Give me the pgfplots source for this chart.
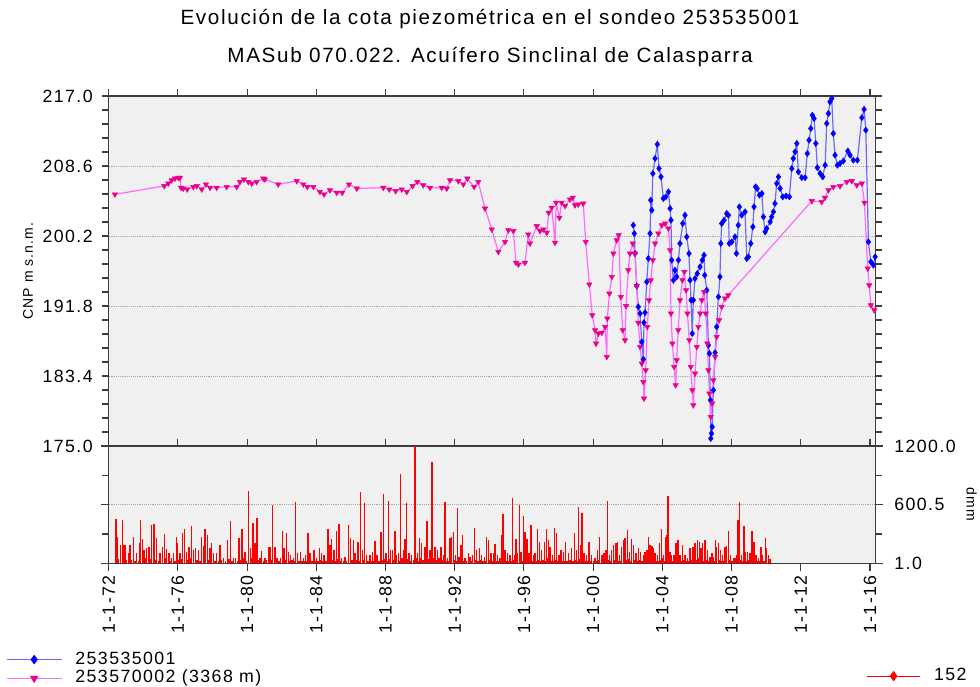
\documentclass[border=0pt]{standalone}
\usepackage{fontspec}
\setmainfont{Liberation Sans}[LetterSpace=8]
\usepackage{pgfplots}
\pgfplotsset{compat=1.18}
\usepackage{pgfplotstable}

\definecolor{bgg}{RGB}{240,240,240}
\definecolor{blueline}{RGB}{105,105,255}
\definecolor{magline}{RGB}{255,105,255}
\definecolor{axgray}{RGB}{60,60,60}

\pgfplotstableread{
x y
1972.36 205.2
1975.21 206.2
1975.45 206.5
1975.64 206.9
1975.83 207.1
1976.02 207.2
1976.12 207.2
1976.18 206.0
1976.31 205.9
1976.54 205.8
1976.89 206.1
1977.09 206.2
1977.38 205.8
1977.62 206.4
1977.86 206.0
1978.24 206.0
1978.82 206.1
1979.40 206.1
1979.59 206.7
1979.82 207.0
1980.07 206.7
1980.27 206.5
1980.55 206.7
1980.94 207.1
1981.03 207.0
1981.80 206.4
1982.87 206.8
1983.25 206.4
1983.48 206.1
1983.83 206.1
1984.21 205.5
1984.45 205.2
1984.79 205.7
1985.18 205.4
1985.50 205.4
1985.89 206.4
1986.34 205.9
1987.87 206.0
1988.22 205.8
1988.59 205.6
1988.94 205.8
1989.23 205.5
1989.57 206.2
1989.84 206.7
1990.18 206.3
1990.57 206.0
1991.25 206.0
1991.54 205.9
1991.73 206.9
1992.21 206.8
1992.50 206.4
1992.73 207.1
1993.12 206.1
1993.36 206.7
1993.75 203.5
1994.14 201.0
1994.52 198.3
1994.91 199.5
1995.10 200.9
1995.39 200.8
1995.54 197.0
1995.68 196.8
1996.06 197.0
1996.25 200.4
1996.35 199.3
1996.74 201.4
1996.93 200.8
1997.12 201.0
1997.32 200.6
1997.43 203.0
1997.61 203.6
1997.80 199.4
1997.86 204.2
1998.05 202.4
1998.18 204.2
1998.38 203.8
1998.66 204.6
1998.82 204.8
1998.95 203.9
1999.14 204.0
1999.43 204.1
1999.57 199.5
1999.78 194.4
1999.95 190.7
2000.11 188.9
2000.17 187.3
2000.30 188.5
2000.50 188.6
2000.69 189.3
2000.79 185.7
2000.82 190.3
2000.94 193.3
2001.08 195.3
2001.17 198.1
2001.36 199.7
2001.48 200.3
2001.60 192.9
2001.71 188.9
2001.84 187.7
2001.90 191.8
2002.03 196.1
2002.13 198.1
2002.29 199.3
2002.42 198.1
2002.52 194.2
2002.61 189.8
2002.71 186.9
2002.81 184.9
2002.90 182.7
2002.94 180.7
2003.04 184.1
2003.13 189.3
2003.23 192.5
2003.33 194.9
2003.45 197.3
2003.58 199.3
2003.77 200.5
2003.97 201.5
2004.16 201.7
2004.35 201.1
2004.45 198.5
2004.50 190.9
2004.58 187.3
2004.68 184.5
2004.77 182.3
2004.83 185.3
2004.92 188.9
2005.02 192.5
2005.16 194.9
2005.27 195.9
2005.37 193.7
2005.45 190.9
2005.56 187.7
2005.64 184.5
2005.73 181.7
2005.79 179.9
2005.89 183.7
2005.99 186.9
2006.08 189.3
2006.18 190.9
2006.28 192.5
2006.41 193.5
2006.51 190.9
2006.60 187.3
2006.66 184.1
2006.72 181.3
2006.80 178.5
2006.88 180.1
2006.95 182.9
2007.05 185.7
2007.14 188.1
2007.28 190.1
2007.43 191.7
2007.62 192.7
2007.81 193.1
2012.64 204.4
2013.21 204.3
2013.40 204.8
2013.60 205.7
2013.88 206.1
2014.27 206.2
2014.66 206.7
2014.95 206.8
2015.24 206.3
2015.53 206.5
2015.68 204.2
2015.87 196.3
2015.96 194.3
2016.05 191.9
2016.25 191.3
}\magtab

\pgfplotstableread{
x y
2002.32 201.5
2002.38 200.5
2002.42 198.1
2002.52 194.2
2002.61 191.7
2002.71 190.9
2002.81 187.5
2002.90 185.4
2002.94 189.8
2003.00 191.0
2003.10 194.7
2003.19 197.5
2003.29 200.5
2003.33 204.5
2003.39 203.3
2003.45 207.7
2003.58 209.5
2003.71 211.2
2003.81 208.3
2003.92 207.3
2004.06 204.7
2004.20 204.9
2004.35 205.5
2004.45 203.5
2004.50 202.1
2004.54 197.3
2004.64 194.9
2004.73 196.1
2004.83 195.3
2004.93 197.3
2005.02 199.3
2005.18 201.7
2005.31 202.7
2005.41 200.1
2005.54 198.1
2005.60 194.9
2005.66 192.5
2005.73 188.5
2005.79 192.5
2005.89 195.1
2006.02 195.7
2006.18 196.5
2006.31 197.3
2006.41 197.9
2006.45 195.5
2006.57 193.7
2006.66 187.1
2006.72 186.1
2006.78 180.5
2006.80 175.9
2006.84 176.5
2006.88 177.3
2006.95 181.7
2007.05 186.2
2007.14 189.3
2007.24 192.9
2007.33 195.3
2007.38 199.3
2007.43 201.7
2007.57 202.1
2007.72 202.9
2007.82 202.7
2007.87 199.3
2008.01 199.5
2008.20 200.1
2008.28 198.1
2008.39 201.5
2008.45 203.7
2008.59 202.7
2008.78 203.1
2008.88 197.5
2008.97 197.7
2009.11 199.3
2009.23 201.3
2009.30 203.7
2009.39 206.1
2009.48 205.9
2009.61 205.1
2009.75 205.3
2009.84 202.5
2009.94 200.7
2010.03 201.1
2010.23 201.9
2010.32 202.5
2010.42 203.1
2010.51 204.1
2010.61 206.5
2010.71 207.3
2010.81 205.9
2010.96 204.9
2011.15 205.0
2011.34 204.9
2011.48 208.3
2011.57 209.5
2011.67 210.3
2011.77 211.3
2011.86 207.9
2012.06 207.2
2012.25 207.2
2012.38 210.1
2012.48 211.7
2012.58 213.1
2012.67 214.7
2012.77 214.3
2012.87 211.3
2012.96 208.4
2013.12 207.7
2013.27 207.3
2013.41 208.7
2013.50 213.7
2013.60 214.9
2013.69 216.3
2013.79 216.7
2013.88 212.5
2013.98 209.9
2014.12 208.7
2014.27 208.9
2014.46 209.2
2014.72 210.4
2014.85 209.9
2015.04 209.3
2015.27 209.3
2015.53 214.4
2015.66 215.4
2015.76 212.9
2015.91 199.5
2016.05 197.1
2016.20 196.7
2016.30 197.7
}\bluetab

\pgfplotstableread{
x y
1972.42 453
1972.48 274
1972.56 50
1972.69 189
1972.79 446
1972.85 189
1972.94 190
1973.04 40
1973.14 103
1973.23 189
1973.33 35
1973.43 268
1973.52 30
1973.62 103
1973.71 25
1973.77 213
1973.83 446
1973.95 247
1974.04 137
1974.12 60
1974.20 154
1974.33 172
1974.41 50
1974.49 394
1974.62 401
1974.70 40
1974.77 257
1974.87 30
1974.97 103
1975.10 172
1975.22 298
1975.29 60
1975.35 144
1975.49 103
1975.56 30
1975.64 51
1975.74 103
1975.83 20
1975.91 274
1975.99 206
1976.07 40
1976.12 103
1976.20 50
1976.28 308
1976.37 350
1976.51 120
1976.57 40
1976.64 172
1976.72 60
1976.80 384
1976.91 137
1977.03 154
1977.11 40
1977.18 137
1977.28 30
1977.38 274
1977.49 178
1977.57 350
1977.70 291
1977.78 40
1977.86 154
1977.95 213
1978.05 103
1978.15 30
1978.24 103
1978.34 20
1978.44 189
1978.53 40
1978.63 51
1978.74 20
1978.86 240
1978.96 50
1979.05 436
1979.13 30
1979.21 51
1979.34 51
1979.44 20
1979.53 257
1979.63 40
1979.71 350
1979.80 60
1979.88 120
1979.98 30
1980.07 737
1980.19 154
1980.27 60
1980.34 418
1980.46 206
1980.57 463
1980.67 40
1980.75 51
1980.84 130
1980.94 30
1981.04 51
1981.13 40
1981.23 172
1981.33 172
1981.40 40
1981.48 600
1981.61 172
1981.67 40
1981.74 51
1981.84 20
1981.94 60
1982.05 333
1982.13 154
1982.21 40
1982.28 309
1982.38 120
1982.46 30
1982.51 86
1982.59 40
1982.67 51
1982.75 20
1982.80 628
1982.90 103
1983.00 30
1983.09 120
1983.17 25
1983.25 51
1983.32 20
1983.38 86
1983.46 30
1983.52 316
1983.63 103
1983.75 30
1983.86 137
1983.94 20
1984.02 51
1984.09 30
1984.17 161
1984.25 40
1984.31 103
1984.36 30
1984.44 86
1984.56 20
1984.67 350
1984.79 189
1984.88 250
1984.96 40
1985.02 137
1985.10 30
1985.17 336
1985.25 50
1985.31 401
1985.39 30
1985.46 51
1985.56 20
1985.66 68
1985.75 30
1985.87 388
1985.98 257
1986.06 40
1986.14 240
1986.25 103
1986.33 40
1986.41 223
1986.48 30
1986.56 731
1986.68 137
1986.73 40
1986.79 617
1986.91 86
1987.00 30
1987.10 86
1987.18 20
1987.25 120
1987.33 30
1987.39 233
1987.47 40
1987.52 86
1987.62 20
1987.74 326
1987.81 40
1987.87 710
1987.95 50
1988.03 103
1988.10 30
1988.16 635
1988.24 50
1988.29 137
1988.39 137
1988.47 40
1988.55 333
1988.64 86
1988.74 103
1988.82 30
1988.87 909
1988.95 60
1989.03 137
1989.12 247
1989.22 617
1989.30 50
1989.37 103
1989.45 30
1989.51 86
1989.61 40
1989.70 1200
1989.76 60
1989.84 103
1989.89 30
1989.95 257
1990.03 60
1990.09 206
1990.18 40
1990.28 172
1990.36 60
1990.41 429
1990.49 50
1990.57 137
1990.65 40
1990.70 1036
1990.78 60
1990.86 172
1990.93 40
1991.01 137
1991.08 60
1991.21 172
1991.28 40
1991.34 86
1991.44 628
1991.52 30
1991.57 51
1991.65 20
1991.73 257
1991.82 274
1991.92 326
1991.98 40
1992.05 86
1992.11 30
1992.17 566
1992.25 68
1992.30 30
1992.36 189
1992.46 292
1992.54 30
1992.59 51
1992.69 20
1992.79 103
1992.88 68
1992.96 20
1993.02 86
1993.13 360
1993.21 40
1993.27 137
1993.35 30
1993.42 154
1993.50 40
1993.56 86
1993.63 20
1993.71 68
1993.79 30
1993.85 267
1993.94 240
1994.02 40
1994.10 103
1994.17 20
1994.23 103
1994.33 199
1994.41 30
1994.48 86
1994.56 20
1994.62 51
1994.71 292
1994.79 504
1994.85 40
1994.91 137
1994.98 30
1995.06 103
1995.14 20
1995.19 86
1995.27 30
1995.33 669
1995.39 40
1995.45 86
1995.54 247
1995.60 30
1995.64 103
1995.73 593
1995.79 40
1995.83 120
1995.91 30
1995.97 487
1996.06 326
1996.12 40
1996.18 247
1996.24 30
1996.29 103
1996.35 40
1996.41 394
1996.49 30
1996.54 86
1996.64 103
1996.72 20
1996.77 350
1996.83 40
1996.89 223
1996.97 30
1997.03 137
1997.10 40
1997.18 223
1997.26 30
1997.31 350
1997.37 60
1997.41 240
1997.51 172
1997.57 30
1997.64 86
1997.70 20
1997.76 360
1997.83 40
1997.89 309
1997.97 30
1998.03 86
1998.09 20
1998.14 137
1998.22 30
1998.28 120
1998.34 20
1998.41 223
1998.49 30
1998.57 103
1998.66 40
1998.76 154
1998.84 30
1998.91 309
1998.99 40
1999.05 137
1999.11 30
1999.16 573
1999.22 50
1999.28 189
1999.36 515
1999.42 40
1999.47 103
1999.55 20
1999.63 86
1999.68 30
1999.76 223
1999.84 30
1999.92 86
2000.01 20
2000.11 51
2000.19 20
2000.26 137
2000.32 40
2000.38 274
2000.50 86
2000.57 30
2000.63 103
2000.69 20
2000.75 137
2000.82 635
2000.88 40
2000.94 86
2001.00 20
2001.07 137
2001.17 189
2001.23 40
2001.31 206
2001.40 223
2001.46 30
2001.52 86
2001.59 30
2001.65 172
2001.75 240
2001.84 257
2001.92 40
2001.98 343
2002.04 50
2002.10 120
2002.17 30
2002.23 247
2002.33 189
2002.40 40
2002.48 103
2002.56 30
2002.62 154
2002.69 40
2002.75 120
2002.83 30
2002.90 86
2003.00 120
2003.10 137
2003.16 30
2003.21 274
2003.29 189
2003.39 178
2003.44 40
2003.48 154
2003.58 103
2003.66 30
2003.71 86
2003.77 20
2003.83 206
2003.89 40
2003.95 350
2004.02 60
2004.06 86
2004.14 30
2004.20 274
2004.25 292
2004.33 686
2004.39 60
2004.45 120
2004.54 86
2004.62 20
2004.68 86
2004.74 30
2004.79 206
2004.85 60
2004.91 240
2004.97 30
2005.02 86
2005.10 20
2005.18 189
2005.26 40
2005.31 86
2005.39 20
2005.45 51
2005.53 30
2005.60 154
2005.68 40
2005.76 172
2005.81 30
2005.89 206
2005.95 40
2006.03 240
2006.08 60
2006.14 223
2006.24 154
2006.30 40
2006.33 206
2006.41 30
2006.47 240
2006.55 40
2006.60 137
2006.68 20
2006.76 68
2006.82 30
2006.87 103
2006.95 68
2007.01 20
2007.07 240
2007.14 172
2007.24 206
2007.30 40
2007.37 137
2007.43 30
2007.49 86
2007.57 30
2007.63 172
2007.72 178
2007.82 333
2007.88 40
2007.95 86
2008.03 20
2008.11 51
2008.20 51
2008.30 86
2008.38 446
2008.47 628
2008.53 40
2008.59 86
2008.65 30
2008.72 384
2008.80 120
2008.86 30
2008.92 120
2008.99 40
2009.07 103
2009.13 30
2009.19 333
2009.24 60
2009.30 223
2009.36 40
2009.42 86
2009.49 20
2009.55 51
2009.63 30
2009.69 172
2009.76 40
2009.80 86
2009.88 20
2009.96 257
2010.03 154
2010.13 86
2010.23 50
}\raintab

\begin{document}
\begin{tikzpicture}
\useasboundingbox (0,0) rectangle (735pt,514.5pt);
\node[font=\fontsize{15.5}{18}\selectfont] at (367.5pt,500.25pt) {Evolución de la cota piezométrica en el sondeo 253535001};
\node[font=\fontsize{15.5}{18}\selectfont] at (367.5pt,471.75pt) {MASub 070.022. Acuífero Sinclinal de Calasparra};

\begin{axis}[
  at={(81.5pt,180pt)}, anchor=south west,
  width=575.25pt, height=262.5pt, scale only axis,
  xmin=1972, xmax=2016.33, ymin=175, ymax=217,
  axis background/.style={fill=bgg},
  axis line style={axgray, line width=0.8pt},
  xtick={1972,1976,...,2016}, xticklabels={},
  xtick pos=right,
  ytick={175,183.4,191.8,200.2,208.6,217},
  minor y tick num=4,
  ytick pos=both, yticklabel pos=left,
  tick align=outside,
  major tick length=5pt, minor tick length=5pt,
  tick style={axgray, line width=0.8pt},
  ymajorgrids, major grid style={densely dotted, gray!70, line width=0.6pt},
  /pgf/number format/assume math mode=true,
  yticklabel style={xshift=-3.5pt, /pgf/number format/fixed, /pgf/number format/fixed zerofill, /pgf/number format/precision=1},
  tick label style={font=\fontsize{13.3}{15}\selectfont},
  ylabel={CNP m s.n.m.},
  ylabel style={font=\fontsize{10.5}{12}\selectfont, at={(axis description cs:-0.105,0.5)}, anchor=center},
  legend style={at={(axis description cs:-0.1339,-0.637)}, anchor=west, draw=none, fill=none,
    font=\fontsize{13.3}{15}\selectfont, inner sep=0pt, row sep=0pt,
    nodes={inner sep=1pt, text height=9.5pt, text depth=2.5pt},
    /tikz/every odd column/.append style={column sep=9pt}},
  legend cell align=left,
  legend image code/.code={\draw[mark repeat=2, mark phase=2, #1, mark size=3.3pt] plot coordinates {(0pt,0pt) (20.5pt,0pt) (41pt,0pt)};},
]
\addplot[color=blueline, line width=0.9pt, mark=diamond*, mark size=2.3pt, mark options={fill=blue, draw=blue, line width=0.4pt}] table[x=x,y=y] {\bluetab};
\addlegendentry{253535001}
\addplot[color=magline, line width=0.9pt, mark=triangle*, mark size=2.3pt, mark options={rotate=180, fill=magenta, draw=magenta, line width=0.4pt}] table[x=x,y=y] {\magtab};
\addlegendentry{253570002 (3368 m)}
\end{axis}

\begin{axis}[
  at={(81.5pt,92pt)}, anchor=south west,
  width=575.25pt, height=88pt, scale only axis,
  xmin=1972, xmax=2016.33, ymin=1, ymax=1200,
  axis background/.style={fill=bgg},
  axis line style={axgray, line width=0.8pt},
  xtick={1972,1976,...,2016},
  xticklabels={1-1-72,1-1-76,1-1-80,1-1-84,1-1-88,1-1-92,1-1-96,1-1-00,1-1-04,1-1-08,1-1-12,1-1-16},
  xtick pos=both, xticklabel pos=left,
  x tick label style={rotate=90, anchor=east},
  ytick={1,600.5,1200}, minor ytick={300.75,900.25},
  ytick pos=both, yticklabel pos=right,
  tick align=outside,
  major tick length=5.5pt, minor tick length=5pt,
  tick style={axgray, line width=0.8pt},
  ymajorgrids, major grid style={densely dotted, gray!70, line width=0.6pt},
  /pgf/number format/assume math mode=true,
  yticklabel style={xshift=5pt, /pgf/number format/fixed, /pgf/number format/fixed zerofill, /pgf/number format/precision=1, /pgf/number format/1000 sep={}},
  tick label style={font=\fontsize{13.3}{15}\selectfont},
  ylabel={dmm},
  ylabel style={font=\fontsize{10.5}{12}\selectfont, at={(axis description cs:1.125,0.5)}, anchor=center, rotate=180},
  legend style={at={(axis description cs:1.1205,-0.961)}, anchor=east, draw=none, fill=none,
    font=\fontsize{13.3}{15}\selectfont, inner sep=0pt,
    nodes={inner sep=1pt, text height=9.5pt, text depth=2.5pt},
    /tikz/every odd column/.append style={column sep=9pt}},
]
\addplot[ycomb, color=red, line width=1.1pt, no marks,
  legend image code/.code={\draw[sharp plot, red, line width=0.75pt, mark=diamond*, mark size=3.3pt, mark options={fill=red}, mark repeat=2, mark phase=2] plot coordinates {(0pt,0pt) (20pt,0pt) (40pt,0pt)};}]
  table[x=x,y=y] {\raintab};
\addlegendentry{152}
\end{axis}
\end{tikzpicture}
\end{document}
